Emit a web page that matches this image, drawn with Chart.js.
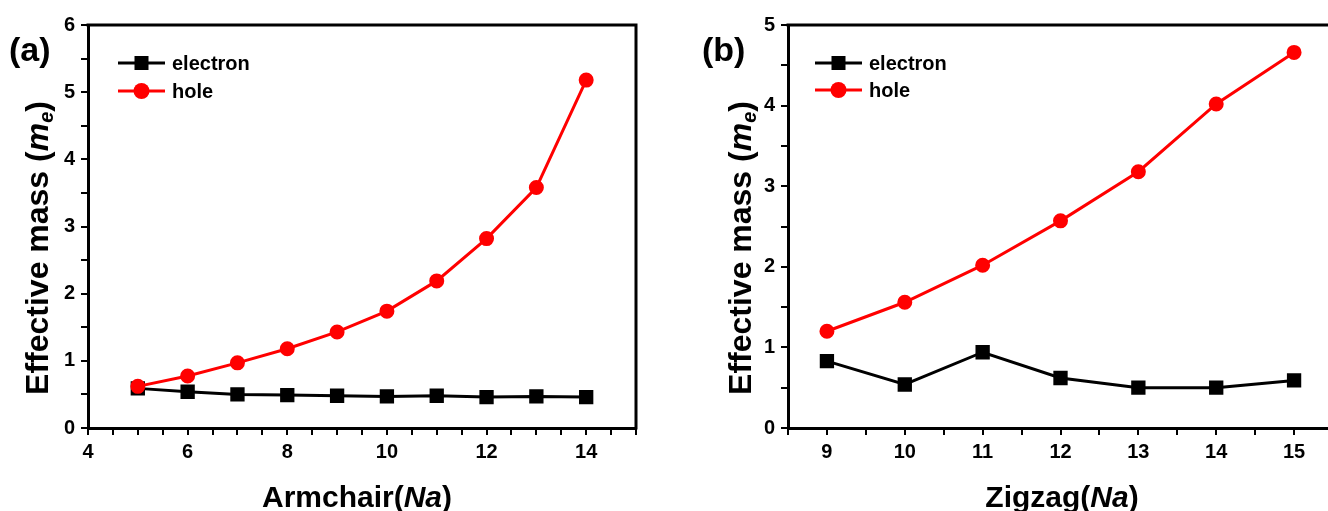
<!DOCTYPE html>
<html>
<head>
<meta charset="utf-8">
<script src="https://cdn.jsdelivr.net/npm/chart.js@4.4.0/dist/chart.umd.min.js"></script>
<style>
    html, body { margin: 0; padding: 0; background: #fff; overflow: hidden; width: 1328px; height: 511px; }
    body { position: relative; font-family: "Liberation Sans", Arial, sans-serif; font-weight: bold; color: #000; }
    canvas { position: absolute; top: 0; }
    #chartA { left: 0; }
    #chartB { left: 664px; }
    .lbl { position: absolute; white-space: nowrap; line-height: 1; }
    .panel { font-size: 34px; }
    .xtitle { font-size: 30px; transform: translate(-50%, -50%); }
    .ytitle { font-size: 32px; transform: translate(-50%, -50%) rotate(-90deg); }
    .ytitle sub { font-size: 20px; vertical-align: -5px; font-style: italic; }
</style>
</head>
<body>
<canvas id="chartA" width="664" height="511"></canvas>
<canvas id="chartB" width="680" height="511"></canvas>

<div class="lbl panel" style="left:9px; top:32px;">(a)</div>
<div class="lbl panel" style="left:702px; top:32px;">(b)</div>
<div class="lbl xtitle" style="left:357px; top:497px;">Armchair(<i>Na</i>)</div>
<div class="lbl xtitle" style="left:1062px; top:497px;">Zigzag(<i>Na</i>)</div>
<div class="lbl ytitle" style="left:38px; top:248px;">Effective mass (<i>m</i><sub>e</sub>)</div>
<div class="lbl ytitle" style="left:741px; top:248px;">Effective mass (<i>m</i><sub>e</sub>)</div>

<script>
// (a) armchair
const armchairN = [5, 6, 7, 8, 9, 10, 11, 12, 13, 14];
const armchairElectron = [0.59, 0.54, 0.50, 0.49, 0.48, 0.47, 0.48, 0.46, 0.47, 0.46];
const armchairHole = [0.62, 0.775, 0.97, 1.18, 1.43, 1.74, 2.19, 2.82, 3.58, 5.18];
const armchairXLabels = [4, 6, 8, 10, 12, 14];

// (b) zigzag
const zigzagN = [9, 10, 11, 12, 13, 14, 15];
const zigzagElectron = [0.83, 0.54, 0.94, 0.62, 0.50, 0.50, 0.59];
const zigzagHole = [1.20, 1.56, 2.02, 2.57, 3.18, 4.02, 4.66];
const zigzagXLabels = [9, 10, 11, 12, 13, 14, 15];

const seriesNames = ['electron', 'hole'];

const font = "'Liberation Sans', Arial, sans-serif";

function toPoints(xs, ys) {
    return xs.map((x, i) => ({ x: x, y: ys[i] }));
}

// box frame on top and right
const framePlugin = {
    id: 'frame',
    afterDraw(chart) {
        const a = chart.chartArea;
        const ctx = chart.ctx;
        ctx.save();
        ctx.strokeStyle = '#000';
        ctx.lineWidth = 3;
        ctx.beginPath();
        ctx.moveTo(a.left - 1.5, a.top);
        ctx.lineTo(a.right, a.top);
        ctx.lineTo(a.right, a.bottom + 1.5);
        ctx.stroke();
        ctx.restore();
    }
};

// origin style legend: line with marker in the middle
const lineLegend = {
    id: 'lineLegend',
    afterDraw(chart, args, opts) {
        const ctx = chart.ctx;
        ctx.save();
        chart.data.datasets.forEach((ds, i) => {
            const y = opts.y + i * opts.gap;
            ctx.strokeStyle = ds.borderColor;
            ctx.lineWidth = 3;
            ctx.beginPath();
            ctx.moveTo(opts.x, y);
            ctx.lineTo(opts.x + opts.len, y);
            ctx.stroke();
            ctx.fillStyle = ds.borderColor;
            const cx = opts.x + opts.len / 2;
            if (ds.pointStyle === 'rect') {
                ctx.fillRect(cx - 7, y - 7, 14, 14);
            } else {
                ctx.beginPath();
                ctx.arc(cx, y, 8, 0, Math.PI * 2);
                ctx.fill();
            }
            ctx.fillStyle = '#000';
            ctx.font = 'bold 20px ' + font;
            ctx.textBaseline = 'middle';
            ctx.fillText(ds.label, opts.x + opts.len + 7, y + 1);
        });
        ctx.restore();
    }
};

function makeChart(id, xs, electron, hole, xMin, xMax, xLabels, yMax, box, legendPos) {
    const ctx = document.getElementById(id).getContext('2d');
    return new Chart(ctx, {
        type: 'line',
        data: {
            datasets: [{
                label: seriesNames[0],
                data: toPoints(xs, electron),
                borderColor: '#000000',
                backgroundColor: '#000000',
                borderWidth: 3,
                pointStyle: 'rect',
                pointRadius: 8,
                order: 1
            }, {
                label: seriesNames[1],
                data: toPoints(xs, hole),
                borderColor: '#ff0000',
                backgroundColor: '#ff0000',
                borderWidth: 3,
                pointStyle: 'circle',
                pointRadius: 6,
                order: 0
            }]
        },
        options: {
            responsive: false,
            animation: false,
            events: [],
            layout: { padding: { left: 0, top: box.top, right: box.right, bottom: 0 } },
            plugins: {
                legend: { display: false },
                tooltip: { enabled: false },
                lineLegend: legendPos
            },
            scales: {
                x: {
                    type: 'linear',
                    min: xMin,
                    max: xMax,
                    afterFit: (s) => { s.height = box.xHeight; },
                    border: { display: true, color: '#000', width: 3 },
                    grid: { drawOnChartArea: false, drawTicks: true, tickLength: 7, color: '#000', lineWidth: 2 },
                    ticks: {
                        stepSize: 0.5,
                        autoSkip: false,
                        maxRotation: 0,
                        padding: 5,
                        color: '#000',
                        font: { family: font, size: 20, weight: 'bold' },
                        callback: (v) => (xLabels.includes(v) ? v : '')
                    }
                },
                y: {
                    min: 0,
                    max: yMax,
                    afterFit: (s) => { s.width = box.yWidth; },
                    border: { display: true, color: '#000', width: 3 },
                    grid: { drawOnChartArea: false, drawTicks: true, tickLength: 7, color: '#000', lineWidth: 2 },
                    ticks: {
                        stepSize: 0.5,
                        autoSkip: false,
                        padding: 6,
                        color: '#000',
                        font: { family: font, size: 20, weight: 'bold' },
                        callback: (v) => (Number.isInteger(v) ? v : '')
                    }
                }
            }
        },
        plugins: [framePlugin, lineLegend]
    });
}

makeChart('chartA', armchairN, armchairElectron, armchairHole, 4, 15, armchairXLabels, 6,
    { top: 25, right: 28, xHeight: 83, yWidth: 88 },
    { x: 118, y: 63, gap: 28, len: 47 });

makeChart('chartB', zigzagN, zigzagElectron, zigzagHole, 8.5, 15.5, zigzagXLabels, 5,
    { top: 25, right: 8, xHeight: 83, yWidth: 124 },
    { x: 151, y: 63, gap: 27, len: 47 });
</script>
</body>
</html>
